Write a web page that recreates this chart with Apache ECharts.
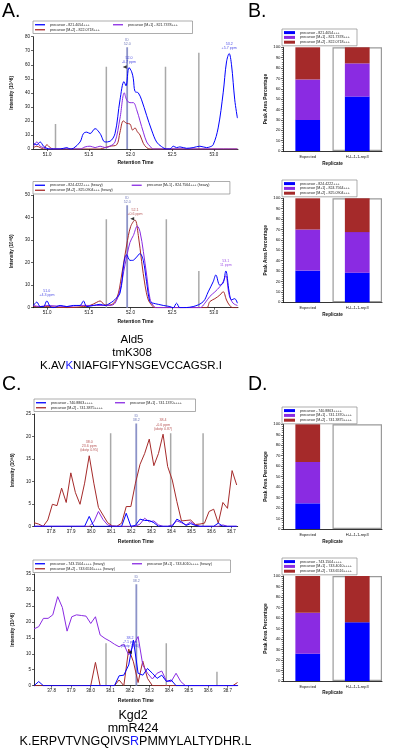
<!DOCTYPE html>
<html><head><meta charset="utf-8">
<script src="https://cdn.jsdelivr.net/npm/echarts@6/dist/echarts.min.js"></script>
<style>html,body{margin:0;padding:0;background:#fff;}#c{width:400px;height:748px;}</style>
</head><body><div id="c"></div>
<script>
// ================= DATA =================
// Panel A (Ald5) chromatograms: [retention time, intensity 10^6]
const aTopNames = ['precursor - 821.4054+++', 'precursor [M+1] - 821.7378+++', 'precursor [M+2] - 822.0718+++'];
const aTopPrecursor = [[50.836,4],[50.876,3],[50.916,5],[50.956,2],[50.996,0.5],[51.036,0],[51.156,0],[51.236,1],[51.275,0],[51.315,0.5],[51.395,5],[51.435,11],[51.475,12],[51.515,11],[51.575,14.5],[51.635,11],[51.695,5],[51.754,5.5],[51.814,11],[51.874,35],[51.922,48],[51.946,45],[51.982,58],[52.014,55],[52.034,50],[52.054,41],[52.093,40],[52.133,35],[52.193,24],[52.253,13.5],[52.313,5],[52.373,1.7],[52.433,0],[52.473,0],[52.513,2],[52.553,1],[52.593,1.5],[52.673,0.5],[52.752,1],[52.832,2],[52.912,1],[52.952,1.5],[52.992,3],[53.052,15],[53.112,40],[53.152,62],[53.184,68],[53.212,60],[53.251,35],[53.283,22]];
const aTopM1 = [[50.836,2],[50.876,5],[50.916,2],[50.956,1],[50.996,0],[51.395,0],[51.455,1.5],[51.515,2],[51.575,1],[51.635,2],[51.695,1],[51.754,2],[51.814,5],[51.874,22],[51.926,40],[51.954,35],[51.994,33],[52.034,33],[52.074,28],[52.114,20],[52.154,12],[52.194,5],[52.234,2],[52.273,0],[53.283,0]];
const aTopM2 = [[50.836,1],[50.876,2],[50.916,1],[50.956,0],[50.996,3],[51.036,1],[51.076,0],[51.635,0],[51.695,1],[51.754,2],[51.834,3],[51.874,12],[51.914,20],[51.954,18.3],[51.994,17.8],[52.026,13.5],[52.054,15],[52.082,12.3],[52.114,10],[52.154,4],[52.194,1],[52.234,0],[53.283,0]];
const aTopBounds = [[51.10,17.8],[51.71,58.6],[52.42,58.6],[52.82,68.6]];
const aTopId = [51.96, 72.5, 'ID\n52.0'];
const aTopNotes = [[51.982,58,'52.0\n-0.7 ppm','precursor'],[53.184,68,'53.2\n+5.7 ppm','precursor']];
const aTopFlag = [51.93, 58.5];

const aBotNames = ['precursor - 824.4222+++ (heavy)', 'precursor [M+1] - 824.7564+++ (heavy)', 'precursor [M+2] - 825.0904+++ (heavy)'];
const aBotPrecursor = [[50.836,1],[50.876,2.5],[50.916,0.5],[50.956,0.5],[50.996,3],[51.036,0.5],[51.076,0],[51.156,1],[51.236,0.5],[51.315,1],[51.395,1],[51.435,3],[51.475,0.5],[51.555,1],[51.635,1.5],[51.695,1],[51.754,2],[51.794,3],[51.874,6.5],[51.922,20],[51.954,23.5],[51.994,21],[52.026,21],[52.074,22.5],[52.113,24],[52.153,21],[52.193,11.5],[52.233,2.7],[52.273,2],[52.333,1.5],[52.393,1],[52.473,0.5],[52.513,0],[52.553,2],[52.593,0],[52.752,0.5],[52.873,2.7],[52.932,7],[52.992,11.5],[53.024,14.5],[53.072,10],[53.112,11],[53.144,16.3],[53.184,7],[53.212,3.5],[53.251,4],[53.283,2]];
const aBotM1 = [[50.836,1],[50.916,0.5],[50.996,1],[51.236,0.5],[51.395,1],[51.595,1],[51.754,1],[51.814,2],[51.874,7.8],[51.934,19],[51.994,29],[52.034,32],[52.082,36.2],[52.114,33.7],[52.154,25],[52.194,14.5],[52.234,4],[52.273,1],[52.313,0],[52.832,0],[52.892,2],[52.952,5],[53.012,7],[53.072,9.3],[53.112,11.5],[53.144,14.2],[53.184,5.6],[53.231,2],[53.283,1]];
const aBotM2 = [[50.836,0.5],[51.0,0.5],[51.236,0],[51.435,0.5],[51.515,1],[51.595,2.4],[51.635,3],[51.695,1.2],[51.754,1.2],[51.834,4],[51.894,14.5],[51.954,27.8],[52.002,36],[52.054,38.9],[52.094,32],[52.134,20.4],[52.174,10],[52.214,3.4],[52.253,1.2],[52.293,0],[52.912,0],[52.952,2.7],[53.012,4],[53.072,5.6],[53.112,7.1],[53.152,3.4],[53.192,0.9],[53.231,0],[53.283,0]];
const aBotBounds = [[51.71,39.2],[52.43,39.2],[52.82,16.3]];
const aBotId = [51.96, 45.4, 'ID\n52.0'];
const aBotNotes = [[50.996,3,'51.0\n+4.3 ppm','precursor'],[52.054,38.9,'52.1\n+0.6 ppm','m2'],[53.144,16.3,'53.1\n11 ppm','m1']];
const aBotFlag = [52.02, 39.5];
const aTicks = [51.0, 51.5, 52.0, 52.5, 53.0];

// Panel C (Kgd2) chromatograms
const cTopNames = ['precursor - 740.8863++++', 'precursor [M+1] - 741.1370++++', 'precursor [M+2] - 741.3875++++'];
const cTopTime = [37.714,37.737,37.760,37.783,37.806,37.829,37.852,37.875,37.898,37.921,37.944,37.967,37.990,38.013,38.036,38.059,38.082,38.105,38.128,38.152,38.175,38.198,38.221,38.244,38.267,38.290,38.313,38.336,38.359,38.382,38.405,38.428,38.451,38.474,38.497,38.520,38.543,38.566,38.589,38.612,38.635,38.658,38.681,38.704,38.727];
const cTopPrecursor = [0,0,0,0,0,0,0,0,0,0,0,0,2.2,0,0,0,0,0,0,0,2.9,0,0.2,1.6,1.3,1.3,0.8,0,0,0,0,1.6,1.0,0.2,0.6,0.2,0,0,0,0,0.7,0,0,0,0];
const cTopM1 = [0,0,0,0,0,0,0,0,0,0,0,0,0,1.0,3.3,1.5,0.3,0,0,0,0,0,0,0.5,1.8,1.0,1.2,0.3,0,0,0.3,1.2,0.8,0.3,1.0,0.3,0,0,0,0,0,0.3,0,0,0];
const cTopM2 = [0.8,0.5,0,1.4,4.9,4.6,8.5,5.3,11.9,7.5,4.9,9.6,15.7,9.6,4.2,2.5,0.8,0.1,0,0.7,4.4,4.4,9.6,13.8,16.2,19.4,13.5,16.2,20.5,13.3,10.3,5.5,1.2,1.3,1.4,0.4,0.5,0.7,3.3,3.8,0.7,5.3,4.0,12.4,9.2];
const cTopBounds = [[38.097,20.7],[38.397,20.7],[38.559,20.7]];
const cTopId = [38.225, 22.9, 'ID\n38.2'];
const cTopNotes = [[37.990,15.7,'38.0\n23.6 ppm\n(idotp 0.95)','m2'],[38.359,20.5,'38.4\n-0.6 ppm\n(idotp 0.87)','m2']];

const cBotNames = ['precursor - 743.1504++++ (heavy)', 'precursor [M+1] - 743.4010++++ (heavy)', 'precursor [M+2] - 743.6516++++ (heavy)'];
const cBotTime = [37.710,37.734,37.758,37.782,37.806,37.831,37.855,37.879,37.903,37.927,37.952,37.976,38.000,38.024,38.048,38.073,38.097,38.121,38.145,38.169,38.194,38.218,38.242,38.266,38.290,38.315,38.339,38.363,38.387,38.411,38.436,38.460,38.484,38.508,38.532,38.557,38.581,38.605,38.629,38.653,38.678,38.702,38.726,38.750];
const cBotPrecursor = [0,1.3,0,0,0,0,0,0,0,0,0,0,0,0,0,0,0,0,3.1,3.3,6.5,14.3,3.9,3.3,5.4,3.9,2.3,3.3,1.3,1.8,0,0,0,0,0,0,0,0,0,0,0,0,0,0];
const cBotM1 = [17.8,18.5,21.1,21.1,22.2,27.9,24.5,17.1,21.6,22.2,22.0,21.8,19.5,21.6,15.9,14.8,14.0,13.0,12.2,13.0,9.6,12.7,15.4,6.5,3.9,2.1,3.9,4.6,1.5,1.3,3.9,1.3,0,0,0,0,0,0,0,0,0,0,0,0];
const cBotM2 = [0,0,0,0,0,0,0,0,0,0,0,0,0,7.3,0,0,0,0,1.8,0,11.5,7.5,1.0,7.7,2.3,0,0,0,0,0,0,0,0,0,0,0,0,0,0,0,0,0,0,1.0];
const cBotBounds = [[38.078,13.3],[38.386,13.3],[38.645,4.4]];
const cBotId = [38.233, 31.8, 'ID\n38.2'];
const cBotNotes = [[38.2,10.6,'38.2\n-7.1 ppm\n(idotp 0.86)','precursor']];
const cBotFlag = [38.2, 10.5];
const cTicks = [37.8, 37.9, 38.0, 38.1, 38.2, 38.3, 38.4, 38.5, 38.6, 38.7];

// Panels B and D: peak area percentage (stacked)
const bCategories = ['Expected', 'H-L-1-1-rep3'];
const bHighlight = ['-', 100];
const bTopPrecursor = [30, 52.5], bTopM1 = [39, 32], bTopM2 = [31, 15.5];
const bBotPrecursor = [30.5, 28.5], bBotM1 = [39.5, 39], bBotM2 = [30, 32.5];
const dTopPrecursor = [24.5, null], dTopM1 = [39.5, null], dTopM2 = [36, null];
const dBotPrecursor = [26, 56], dBotM1 = [39, null], dBotM2 = [35, 44];

// ================= CHART =================
const BLUE = '#0000ff', PURPLE = '#8a2be2', BROWN = '#a52a2a';
const FF = '"Liberation Sans", Arial, Helvetica, sans-serif';
const kindColor = {precursor: '#2020e0', m1: '#8a2be2', m2: '#a83030', id: '#4a55a8'};
const zip = (t, v) => t.map((x, i) => [x, v[i]]);

const grids = [
  {left: 33, top: 36.7, width: 205, height: 112.3},
  {left: 33, top: 195, width: 205, height: 112.7},
  {left: 283, top: 47.3, width: 99, height: 103.7},
  {left: 283, top: 198.3, width: 99, height: 104},
  {left: 34, top: 414, width: 203.7, height: 112.3},
  {left: 34, top: 574, width: 203.7, height: 111.7},
  {left: 283, top: 424.3, width: 99, height: 104.7},
  {left: 283, top: 576, width: 99, height: 105}
];

function chromX(gi, min, max, ticks, gap) {
  return {type: 'value', gridIndex: gi, min, max, splitLine: {show: false},
    axisLine: {show: true, onZero: false, lineStyle: {color: '#000', width: 0.8}},
    axisTick: {show: true, length: 2, customValues: ticks, lineStyle: {color: '#000', width: 0.6}},
    axisLabel: {customValues: ticks, formatter: v => v.toFixed(1), fontSize: 4.5, margin: 3, color: '#111', fontFamily: FF},
    name: 'Retention Time', nameLocation: 'middle', nameGap: gap,
    nameTextStyle: {fontSize: 5, fontWeight: 'bold', color: '#111', fontFamily: FF}};
}
function chromY(gi, max, interval) {
  return {type: 'value', gridIndex: gi, min: 0, max, interval, splitLine: {show: false},
    axisLine: {show: true, onZero: false, lineStyle: {color: '#000', width: 0.8}},
    axisTick: {show: true, length: 2, lineStyle: {color: '#000', width: 0.6}},
    axisLabel: {fontSize: 4.5, margin: 3, color: '#111', fontFamily: FF},
    name: 'Intensity (10^6)', nameLocation: 'middle', nameGap: 13.4, nameRotate: 90,
    nameTextStyle: {fontSize: 4.6, fontWeight: 'bold', color: '#111', fontFamily: FF}};
}
function barX(gi, gap) {
  return {type: 'category', gridIndex: gi, data: bCategories,
    axisLine: {lineStyle: {color: '#000', width: 0.8}},
    axisTick: {alignWithLabel: true, length: 2, lineStyle: {color: '#000', width: 0.6}},
    axisLabel: {fontSize: 4, margin: 3.5, color: '#111', fontFamily: FF},
    name: 'Replicate', nameLocation: 'middle', nameGap: gap,
    nameTextStyle: {fontSize: 4.6, fontWeight: 'bold', color: '#111', fontFamily: FF}};
}
function barXHidden(gi) { return {type: 'category', gridIndex: gi, data: bCategories, show: false}; }
function barY(gi) {
  return {type: 'value', gridIndex: gi, min: 0, max: 100, interval: 10, splitLine: {show: false},
    axisLine: {show: true, lineStyle: {color: '#000', width: 0.8}},
    axisTick: {show: true, length: 2, lineStyle: {color: '#000', width: 0.6}},
    minorTick: {show: true, splitNumber: 5, length: 1.2, lineStyle: {color: '#000', width: 0.5}},
    axisLabel: {fontSize: 4.3, margin: 2.5, color: '#111', fontFamily: FF},
    name: 'Peak Area Percentage', nameLocation: 'middle', nameGap: 14.5, nameRotate: 90,
    nameTextStyle: {fontSize: 4.8, fontWeight: 'bold', color: '#111', fontFamily: FF}};
}

function chromLegend(names, left, top, textW) {
  return {data: names, left, top, orient: 'horizontal', width: 2 * (15 + textW) + 12,
    itemGap: 0.5, itemWidth: 10, itemHeight: 1.3, icon: 'rect', selectedMode: false,
    padding: [1.5, 2, 1.5, 2], borderColor: '#8a8a8a', borderWidth: 0.7, backgroundColor: '#fff',
    textStyle: {fontSize: 3.6, lineHeight: 4.5, width: textW, overflow: 'none', color: '#222', fontFamily: FF}};
}
function barLegend(names, left, top) {
  return {data: names, left, top, orient: 'vertical', itemGap: 0.6, itemWidth: 11, itemHeight: 3,
    icon: 'rect', selectedMode: false, padding: [1.5, 2, 1.5, 2], borderColor: '#8a8a8a', borderWidth: 0.7,
    backgroundColor: '#fff',
    textStyle: {fontSize: 3.6, lineHeight: 4.2, width: 55, overflow: 'none', color: '#222', fontFamily: FF}};
}

function chromSeries(gi, names, pre, m1, m2, smooth) {
  const arr = [[names[2], m2, BROWN], [names[1], m1, PURPLE], [names[0], pre, BLUE]];
  return arr.map((a, k) => ({type: 'line', name: a[0], xAxisIndex: gi, yAxisIndex: gi, data: a[1],
    symbol: 'none', showSymbol: false, smooth, silent: true, z: 3 + k,
    lineStyle: {width: 1, color: a[2]}, itemStyle: {color: a[2]}}));
}
function boundSeries(gi, bounds) {
  return bounds.map(b => ({type: 'line', xAxisIndex: gi, yAxisIndex: gi, data: [[b[0], 0], [b[0], b[1]]],
    symbol: 'none', silent: true, z: 1, lineStyle: {color: '#a9a9a9', width: 1.5}}));
}
function idSeries(gi, id) {
  return [
    {type: 'line', xAxisIndex: gi, yAxisIndex: gi, data: [[id[0], 0], [id[0], id[1]]], symbol: 'none',
      silent: true, z: 2, lineStyle: {color: '#8c93c8', width: 1.8}},
    {type: 'scatter', xAxisIndex: gi, yAxisIndex: gi, data: [{value: [id[0], id[1]], name: id[2]}],
      symbolSize: 1, itemStyle: {color: 'rgba(0,0,0,0)'}, silent: true, z: 8,
      label: {show: true, position: 'top', distance: 1, formatter: '{b}', fontSize: 3.6, lineHeight: 4.1,
        color: kindColor.id, fontFamily: FF, align: 'center'}}
  ];
}
function noteSeries(gi, notes) {
  return notes.map(n => ({type: 'scatter', xAxisIndex: gi, yAxisIndex: gi, data: [{value: [n[0], n[1]], name: n[2]}],
    symbolSize: 1, itemStyle: {color: 'rgba(0,0,0,0)'}, silent: true, z: 8,
    label: {show: true, position: 'top', distance: 3, formatter: '{b}', fontSize: 3.6, lineHeight: 4.1,
      color: kindColor[n[3]], fontFamily: FF, align: 'center'}}));
}
function flagSeries(gi, f) {
  return {type: 'scatter', xAxisIndex: gi, yAxisIndex: gi, data: [f], symbol: 'triangle', symbolRotate: 90,
    symbolSize: [3.5, 4], itemStyle: {color: '#000'}, silent: true, z: 9};
}
function barSeries(gi, hiddenX, names, pre, m1, m2) {
  const st = 'stack' + gi;
  return [
    {type: 'bar', xAxisIndex: hiddenX, yAxisIndex: gi, data: bHighlight, barWidth: '100%', silent: true, z: 1,
      itemStyle: {color: '#fff', borderColor: '#9a9a9a', borderWidth: 1.2}},
    {type: 'bar', name: names[0], xAxisIndex: gi, yAxisIndex: gi, stack: st, data: pre, barWidth: '50%', silent: true, z: 3, itemStyle: {color: BLUE}},
    {type: 'bar', name: names[1], xAxisIndex: gi, yAxisIndex: gi, stack: st, data: m1, barWidth: '50%', silent: true, z: 3, itemStyle: {color: PURPLE}},
    {type: 'bar', name: names[2], xAxisIndex: gi, yAxisIndex: gi, stack: st, data: m2, barWidth: '50%', silent: true, z: 3, itemStyle: {color: BROWN}}
  ];
}

const xAxes = [
  chromX(0, 50.83, 53.29, aTicks, 11.5),
  chromX(1, 50.83, 53.29, aTicks, 11.8),
  barX(2, 10.2), barX(3, 10.2),
  chromX(4, 37.714, 38.732, cTicks, 12.5),
  chromX(5, 37.71, 38.751, cTicks, 12.1),
  barX(6, 10.5), barX(7, 9.5),
  barXHidden(2), barXHidden(3), barXHidden(6), barXHidden(7)
];
const yAxes = [chromY(0, 80, 10), chromY(1, 50, 10), barY(2), barY(3), chromY(4, 25, 5), chromY(5, 35, 5), barY(6), barY(7)];

const series = [].concat(
  boundSeries(0, aTopBounds), idSeries(0, aTopId), chromSeries(0, aTopNames, aTopPrecursor, aTopM1, aTopM2, 0.35),
  noteSeries(0, aTopNotes), [flagSeries(0, aTopFlag)],
  boundSeries(1, aBotBounds), idSeries(1, aBotId), chromSeries(1, aBotNames, aBotPrecursor, aBotM1, aBotM2, 0.35),
  noteSeries(1, aBotNotes), [flagSeries(1, aBotFlag)],
  barSeries(2, 8, aTopNames, bTopPrecursor, bTopM1, bTopM2),
  barSeries(3, 9, aBotNames.map(n => n.replace(' (heavy)', '')), bBotPrecursor, bBotM1, bBotM2),
  boundSeries(4, cTopBounds), idSeries(4, cTopId),
  chromSeries(4, cTopNames, zip(cTopTime, cTopPrecursor), zip(cTopTime, cTopM1), zip(cTopTime, cTopM2), false),
  noteSeries(4, cTopNotes),
  boundSeries(5, cBotBounds), idSeries(5, cBotId),
  chromSeries(5, cBotNames, zip(cBotTime, cBotPrecursor), zip(cBotTime, cBotM1), zip(cBotTime, cBotM2), false),
  noteSeries(5, cBotNotes), [flagSeries(5, cBotFlag)],
  barSeries(6, 10, cTopNames, dTopPrecursor, dTopM1, dTopM2),
  barSeries(7, 11, cBotNames.map(n => n.replace(' (heavy)', '')), dBotPrecursor, dBotM1, dBotM2)
);

const legends = [
  chromLegend(aTopNames, 33, 21, 62.5),
  chromLegend(aBotNames, 33, 181.5, 81.2),
  barLegend(aTopNames, 282, 29),
  barLegend(aBotNames.map(n => n.replace(' (heavy)', '')), 282, 180),
  chromLegend(cTopNames, 34, 399, 63.5),
  chromLegend(cBotNames, 33, 560, 81.5),
  barLegend(cTopNames, 282, 407),
  barLegend(cBotNames.map(n => n.replace(' (heavy)', '')), 282, 558)
];

function txt(x, y, text, size, align, rich) {
  return {type: 'text', x, y, silent: true, z: 10,
    style: {text, fontSize: size, fontFamily: FF, fill: '#000', align, verticalAlign: 'middle', rich}};
}
const seqRich12 = {n: {fontSize: 11.5, fontFamily: FF, fill: '#000'}, h: {fontSize: 11.5, fontFamily: FF, fill: '#1a1aff'}};
const seqRich13 = {n: {fontSize: 12.5, fontFamily: FF, fill: '#000'}, h: {fontSize: 12.5, fontFamily: FF, fill: '#1a1aff'}};
const graphic = [
  txt(2, 11.3, 'A.', 19.5, 'left'), txt(248, 11.3, 'B.', 19.5, 'left'),
  txt(2, 385, 'C.', 19.5, 'left'), txt(248, 385, 'D.', 19.5, 'left'),
  txt(132, 340, 'Ald5', 11.5, 'center'), txt(132, 352.5, 'tmK308', 11.5, 'center'),
  txt(131, 365.5, '{n|K.AV}{h|K}{n|NIAFGIFYNSGEVCCAGSR.I}', 11.5, 'center', seqRich12),
  txt(133, 715.5, 'Kgd2', 12.5, 'center'), txt(133, 728.5, 'mmR424', 12.5, 'center'),
  txt(135.5, 741.2, '{n|K.ERPVTVNGQIVS}{h|R}{n|PMMYLALTYDHR.L}', 12.5, 'center', seqRich13)
];

const chart = echarts.init(document.getElementById('c'), null, {renderer: 'canvas'});
chart.setOption({
  animation: false, backgroundColor: '#fff', textStyle: {fontFamily: FF},
  grid: grids, xAxis: xAxes, yAxis: yAxes, legend: legends, series, graphic
});
</script></body></html>
